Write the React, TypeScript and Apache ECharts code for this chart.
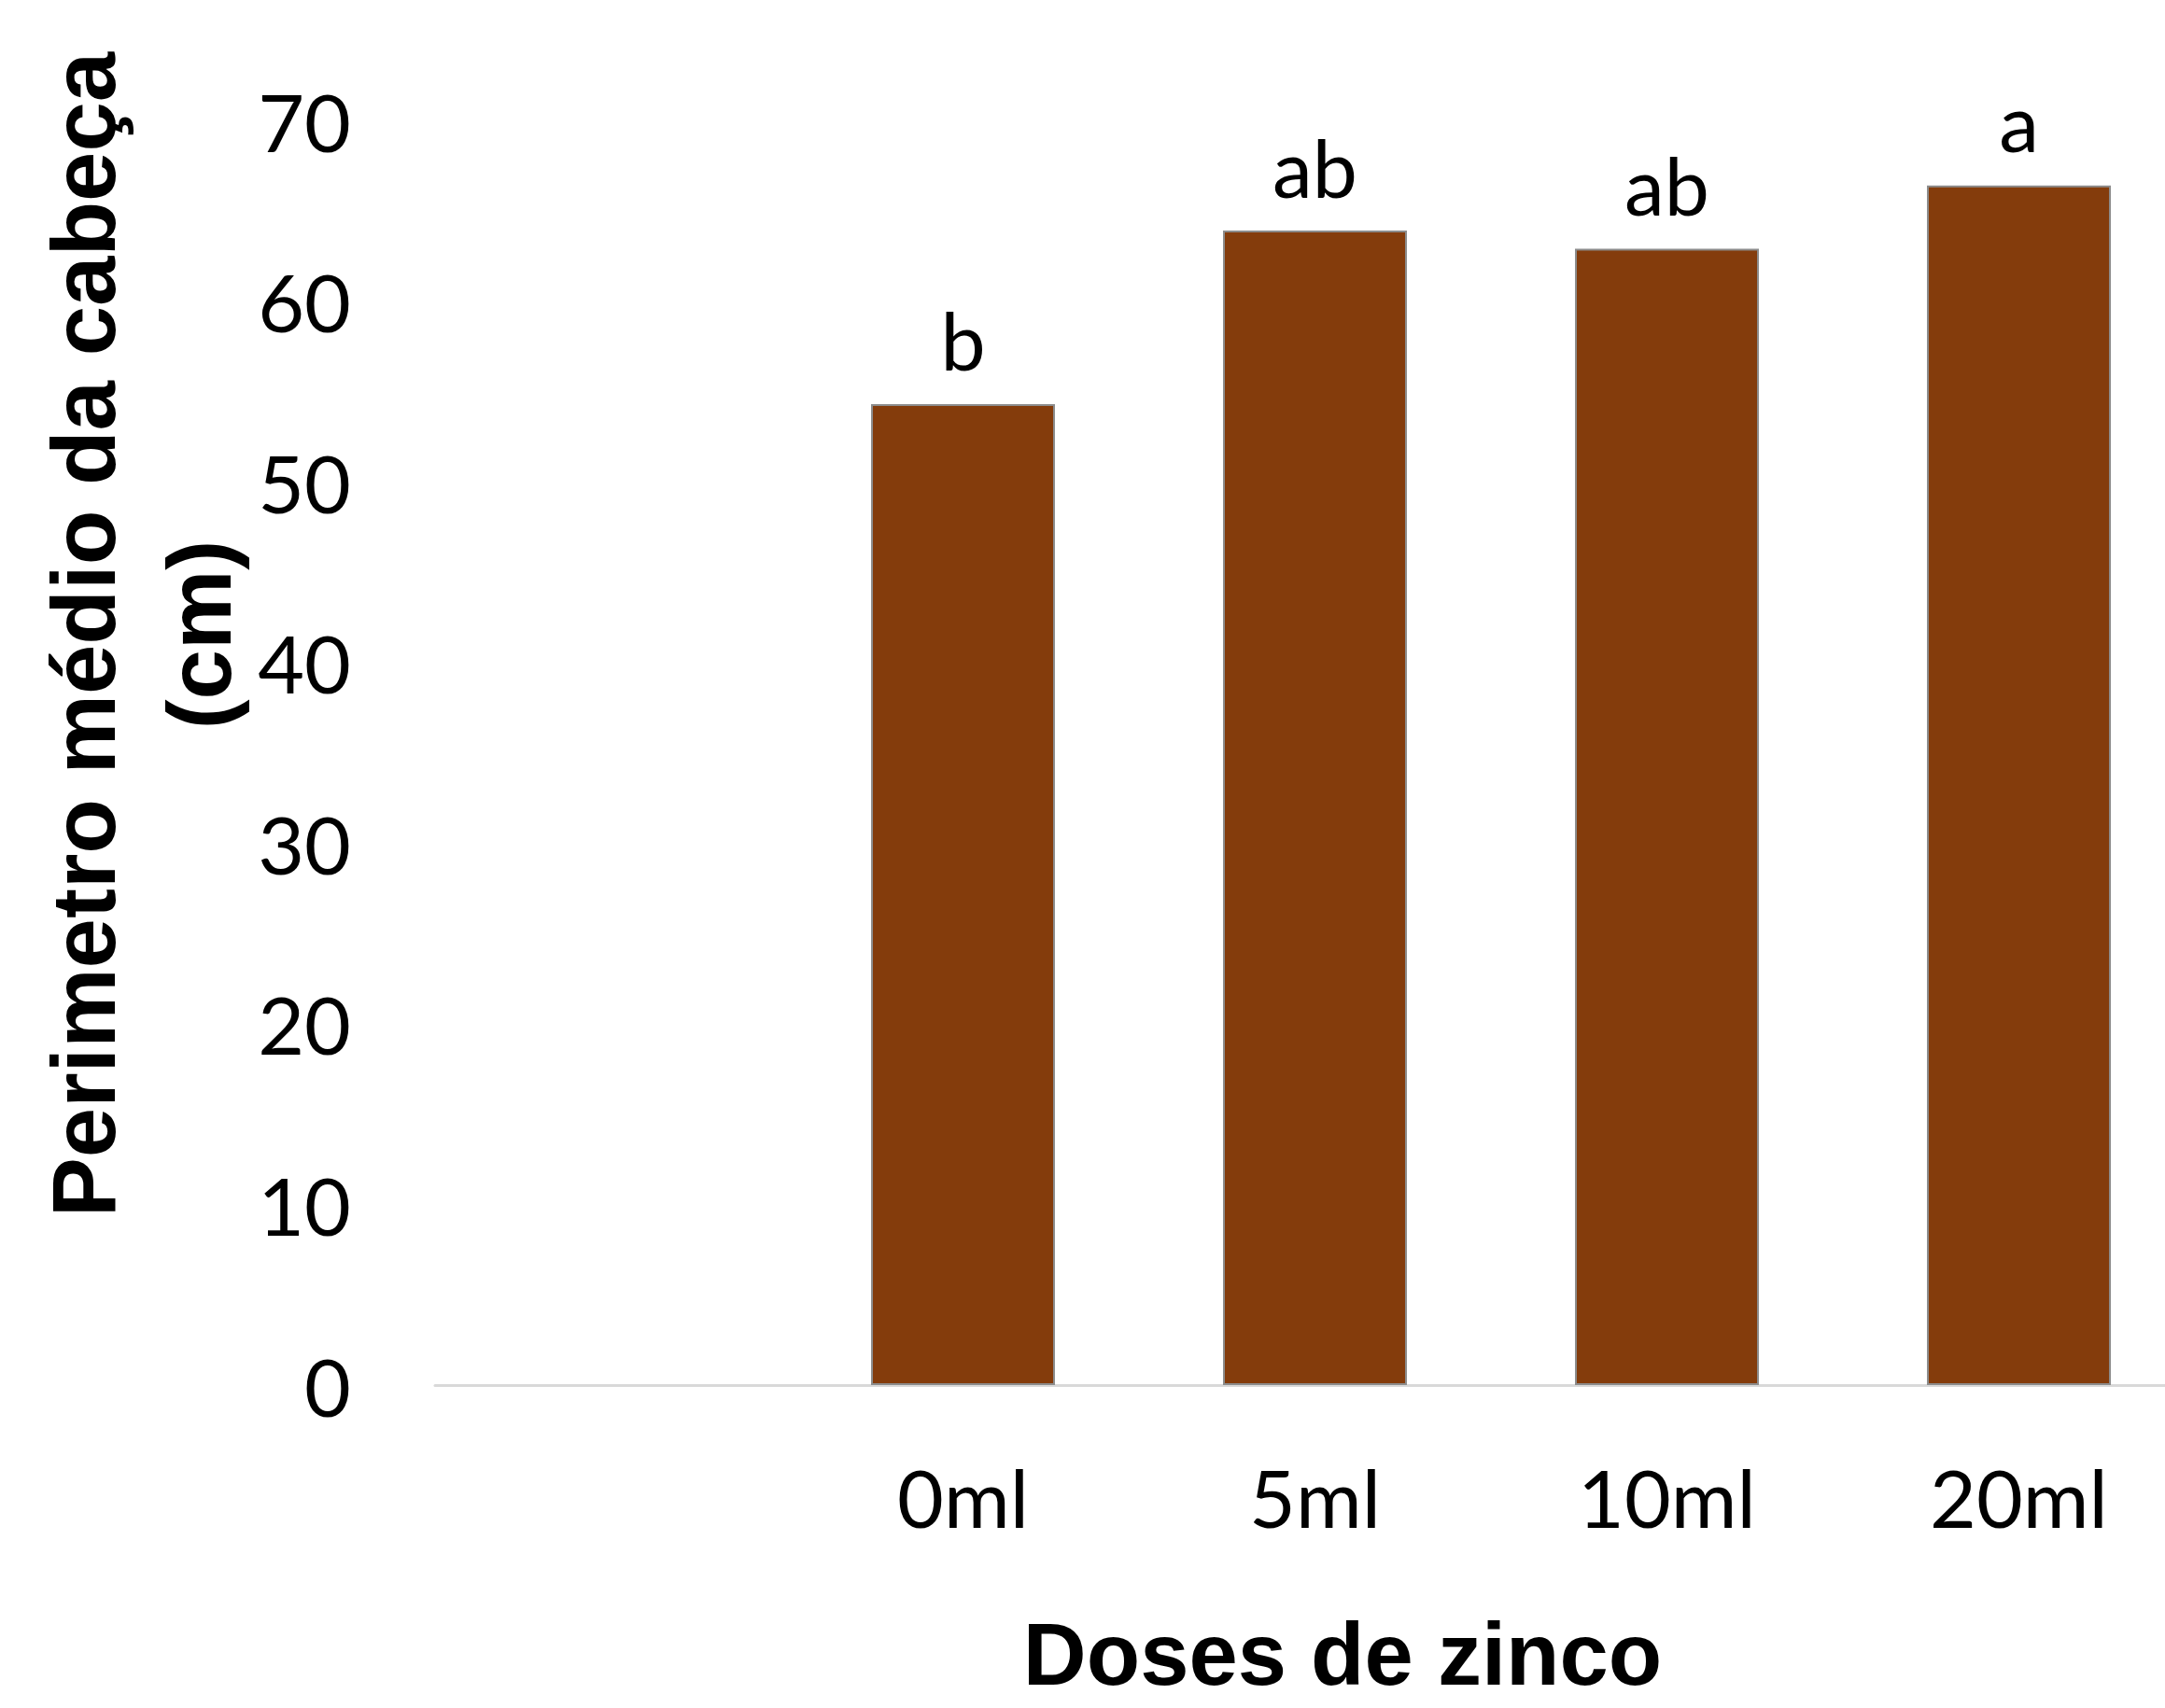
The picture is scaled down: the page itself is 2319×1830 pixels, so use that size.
import React, { useEffect, useRef } from "react";
import * as echarts from "echarts";

const categories = ["", "0ml", "5ml", "10ml", "20ml"];
const values: (number | null)[] = [null, 54.3, 63.9, 62.9, 66.4];
const letters = ["", "b", "ab", "ab", "a"];
const yTicks = { min: 0, max: 70, interval: 10 };
const yTitle = "Perimetro médio da cabeça\n(cm)";
const xTitle = "Doses de zinco";

export default function App() {
  const ref = useRef<HTMLDivElement>(null);
  useEffect(() => {
    if (!ref.current) return;
    const chart = echarts.init(ref.current, undefined, { renderer: "svg" });
    const font = "Lato";
    chart.setOption({
      animation: false,
      backgroundColor: "#ffffff",
      grid: {
        left: 466,
        top: 129,
        width: 1885,
        height: 1355,
        containLabel: false,
        outerBoundsMode: "none",
      },
      xAxis: {
        type: "category",
        data: categories,
        axisLine: { show: true, lineStyle: { color: "#D9D9D9", width: 3 } },
        axisTick: { show: false },
        axisLabel: { fontFamily: font, fontSize: 86, color: "#000", margin: 76 },
        splitLine: { show: false },
      },
      yAxis: {
        type: "value",
        min: yTicks.min,
        max: yTicks.max,
        interval: yTicks.interval,
        axisLine: { show: false },
        axisTick: { show: false },
        splitLine: { show: false },
        axisLabel: { fontFamily: font, fontSize: 86, color: "#000", margin: 90 },
      },
      series: [
        {
          type: "bar",
          data: values,
          barWidth: 197,
          itemStyle: { color: "#843C0C", borderColor: "#8C8C8C", borderWidth: 2 },
          label: {
            show: true,
            position: "top",
            distance: 26,
            fontFamily: font,
            fontSize: 86,
            color: "#000",
            formatter: (p: any) => letters[p.dataIndex] || "",
          },
        },
      ],
      graphic: [
        {
          type: "text",
          x: 151,
          y: 680,
          rotation: Math.PI / 2,
          style: {
            text: yTitle,
            fontFamily: "Liberation Sans",
            fontWeight: "bold",
            fontSize: 96,
            lineHeight: 124,
            fill: "#000",
            align: "center",
            verticalAlign: "middle",
          },
        },
        {
          type: "text",
          x: 1438,
          y: 1772,
          style: {
            text: xTitle,
            fontFamily: "Liberation Sans",
            fontWeight: "bold",
            fontSize: 94,
            lineHeight: 94,
            fill: "#000",
            align: "center",
            verticalAlign: "middle",
          },
        },
      ],
    });
    return () => chart.dispose();
  }, []);
  return (
    <div
      ref={ref}
      style={{ position: "absolute", left: 0, top: 0, width: 2319, height: 1830, overflow: "hidden" }}
    />
  );
}
